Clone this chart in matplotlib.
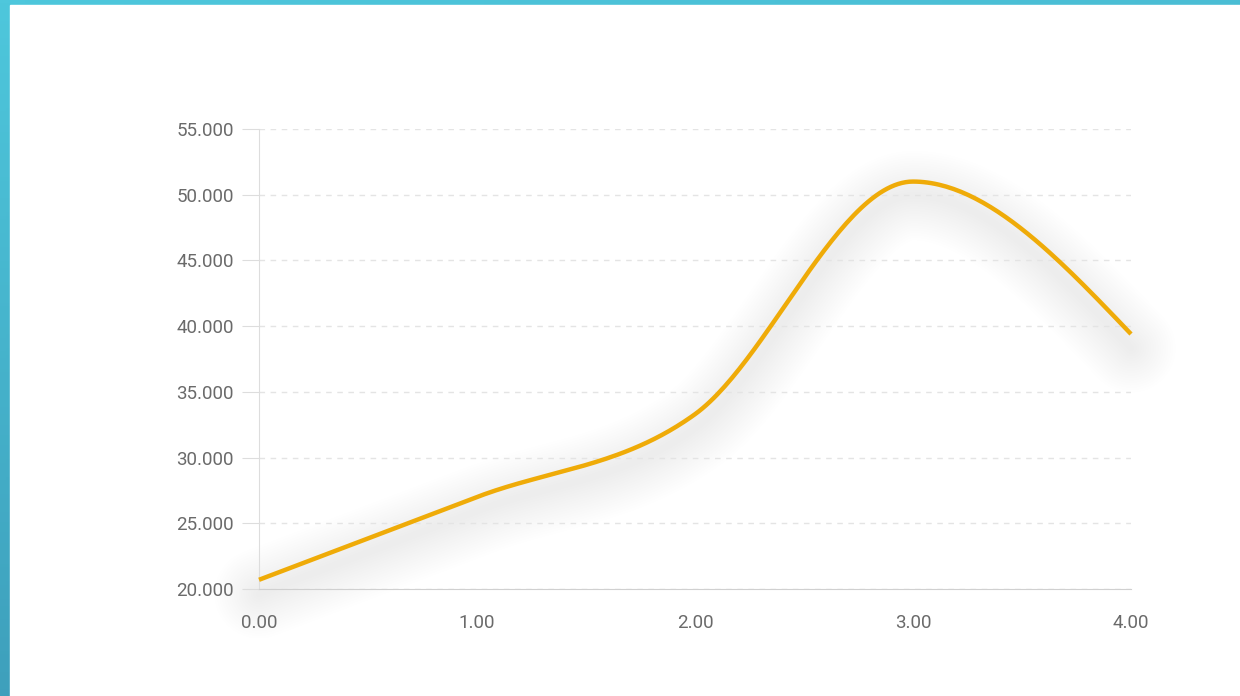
import numpy as np
import matplotlib
matplotlib.use('Agg')
import matplotlib.pyplot as plt
from matplotlib.ticker import FuncFormatter
from matplotlib.patches import Rectangle
from matplotlib.colors import LinearSegmentedColormap
import matplotlib.transforms as mtransforms

x_vals = [0, 1, 2, 3, 4]
y_vals = [20700, 27000, 33300, 51000, 39400]
x_ticks = [0, 1, 2, 3, 4]
y_ticks = [20000, 25000, 30000, 35000, 40000, 45000, 50000, 55000]

line_color = '#efab08'
label_color = '#6a6a6a'


def monotone_curve(x, y, n=60):
    # monotone cubic (like d3 curveMonotoneX), just for drawing the smooth line
    x = np.asarray(x, float)
    y = np.asarray(y, float)
    h = np.diff(x)
    s = np.diff(y) / h
    m = np.zeros_like(y)
    for i in range(1, len(y) - 1):
        if s[i - 1] * s[i] <= 0:
            m[i] = 0
        else:
            p = (s[i - 1] * h[i] + s[i] * h[i - 1]) / (h[i - 1] + h[i])
            m[i] = (np.sign(s[i - 1]) + np.sign(s[i])) * min(abs(s[i - 1]), abs(s[i]), 0.5 * abs(p))
    m[0] = (3 * s[0] - m[1]) / 2
    m[-1] = (3 * s[-1] - m[-2]) / 2
    xs, ys = [], []
    for i in range(len(h)):
        t = np.linspace(0, 1, n)
        h00 = 2 * t**3 - 3 * t**2 + 1
        h10 = t**3 - 2 * t**2 + t
        h01 = -2 * t**3 + 3 * t**2
        h11 = t**3 - t**2
        xs.append(x[i] + t * h[i])
        ys.append(h00 * y[i] + h10 * h[i] * m[i] + h01 * y[i + 1] + h11 * h[i] * m[i + 1])
    return np.concatenate(xs), np.concatenate(ys)


fig = plt.figure(figsize=(12.4, 6.96), dpi=100)

# teal gradient frame behind the white card
bg = fig.add_axes([0, 0, 1, 1], zorder=-10)
gx, gy = np.meshgrid(np.linspace(0, 1, 200), np.linspace(0, 1, 200))
grad = gy * 0.8 + gx * 0.2
cmap = LinearSegmentedColormap.from_list('bgc', ['#4ec7dc', '#3a96b4'])
bg.imshow(grad, cmap=cmap, extent=[0, 1, 0, 1], aspect='auto', origin='upper')
bg.add_patch(Rectangle((10 / 1240, 0), 1, 1 - 5 / 696, color='white', transform=bg.transAxes))
bg.set_xlim(0, 1)
bg.set_ylim(0, 1)
bg.axis('off')

ax = fig.add_axes([259 / 1240, 1 - 589 / 696, (1131 - 259) / 1240, (589 - 129) / 696])
ax.set_facecolor('none')

cx, cy = monotone_curve(x_vals, y_vals)

# soft drop shadow under the line
off = mtransforms.offset_copy(ax.transData, fig=fig, x=0, y=-14, units='dots')
for i in range(18):
    ax.plot(cx, cy, color='#000000', alpha=0.0055, lw=5 + i * 3.5,
            solid_capstyle='round', solid_joinstyle='round',
            transform=off, zorder=1, clip_on=False)

ax.plot(cx, cy, color=line_color, lw=3.2, solid_capstyle='butt', zorder=3, clip_on=False)

ax.set_xlim(0, 4)
ax.set_ylim(20000, 55000)
ax.set_xticks(x_ticks)
ax.set_yticks(y_ticks)
ax.xaxis.set_major_formatter(FuncFormatter(lambda v, p: f'{v:.2f}'))
ax.yaxis.set_major_formatter(FuncFormatter(lambda v, p: f'{int(v):,}'.replace(',', '.')))

ax.grid(axis='y', color='#e4e4e4', linestyle=(0, (4, 4)), lw=1, zorder=0)
for side in ['top', 'right']:
    ax.spines[side].set_visible(False)
ax.spines['left'].set_color('#dddddd')
ax.spines['bottom'].set_color('#d0d0d0')
ax.tick_params(axis='y', length=12, color='#dddddd', labelsize=13.5, labelcolor=label_color, pad=6)
ax.tick_params(axis='x', length=0, labelsize=13.5, labelcolor=label_color, pad=18)
for lab in ax.get_xticklabels() + ax.get_yticklabels():
    lab.set_fontfamily('Roboto')

fig.savefig('out.png', dpi=100)
